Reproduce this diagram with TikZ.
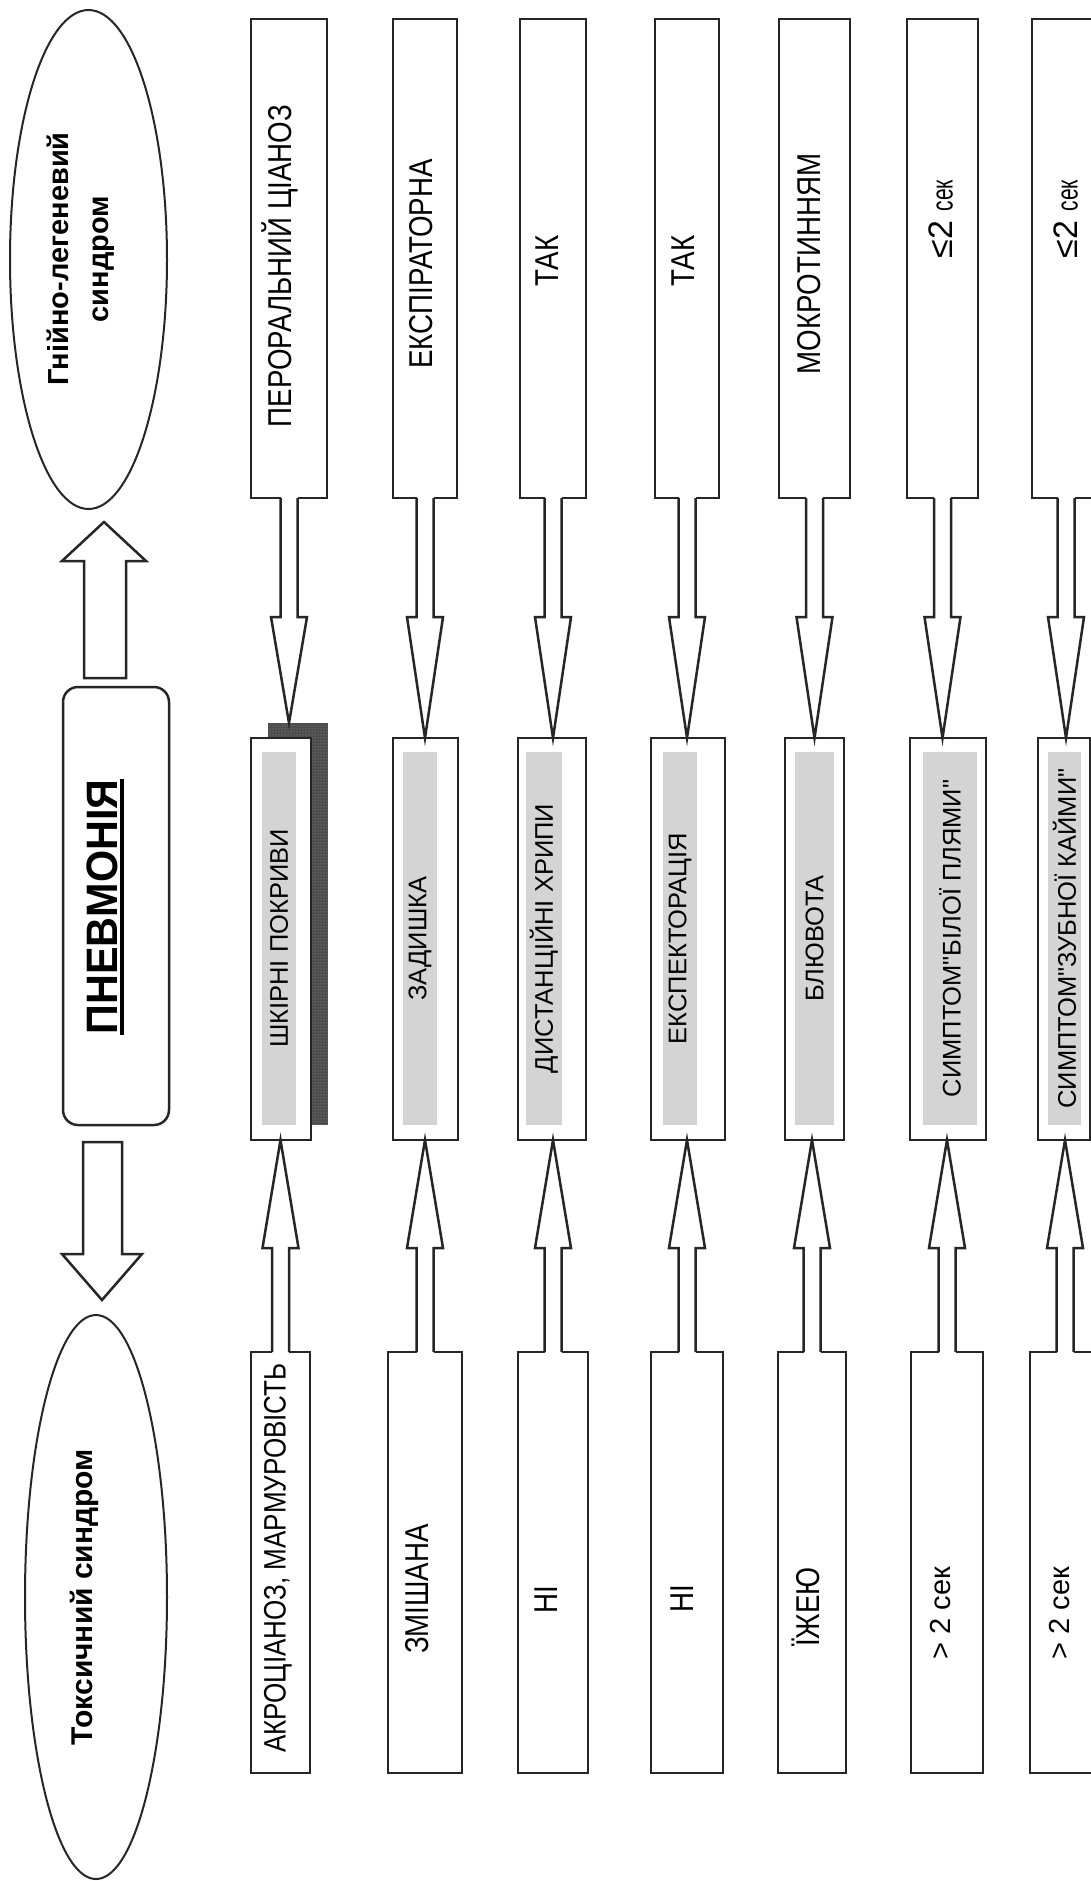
\documentclass[tikz,border=0pt]{standalone}
\usepackage{fontspec}
\setmainfont{Liberation Sans}[Ligatures=TeXOff]
\newfontfamily\cond[FakeStretch=0.84,Ligatures=TeXOff]{Liberation Sans}
\newfontfamily\narrowf[FakeStretch=0.7,Ligatures=TeXOff]{Liberation Sans}
\newfontfamily\pnfont[FakeStretch=0.94,Ligatures=TeXOff]{Liberation Sans}
\usetikzlibrary{shapes.geometric,calc,shadows,patterns}

\newcommand{\TopArrow}[2]{%
  \fill[white] let \p1=(#1.south) in (\x1-8.5pt,\y1+3pt) rectangle (\x1+8.5pt,\y1-119pt);
  \draw[conn] let \p1=(#1.south), \p2=(#2) in
    (\x1-8.5pt,\y1) -- (\x1-8.5pt,\y1-119pt) -- (\x1-18pt,\y1-119pt) -- (\x1,\y2)
    -- (\x1+18pt,\y1-119pt) -- (\x1+8.5pt,\y1-119pt) -- (\x1+8.5pt,\y1);
}
\newcommand{\BotArrow}[2]{%
  \fill[white] let \p1=(#1.north) in (\x1-8.5pt,\y1-3pt) rectangle (\x1+8.5pt,\y1+104pt);
  \draw[conn] let \p1=(#1.north), \p2=(#2) in
    (\x1-8.5pt,\y1) -- (\x1-8.5pt,\y1+104pt) -- (\x1-18pt,\y1+104pt) -- (\x1,\y2)
    -- (\x1+18pt,\y1+104pt) -- (\x1+8.5pt,\y1+104pt) -- (\x1+8.5pt,\y1);
}

\begin{document}
\begin{tikzpicture}[x=1pt,y=-1pt,
  frame/.style={draw=black!85,line width=2.5pt,fill=white,rectangle,inner sep=0pt,outer sep=0pt},
  topbox/.style={frame,minimum height=479pt},
  midbox/.style={frame,minimum height=402pt},
  botbox/.style={frame,minimum height=421pt},
  strip/.style={fill=black!17,rotate=90,minimum width=373pt,inner sep=0pt,font=\fontsize{25.5}{28}\selectfont},
  lab/.style={rotate=90,inner sep=0pt,font=\cond\fontsize{33}{36}\selectfont},
  conn/.style={draw=black!85,line width=2.5pt,line join=miter},
  oval/.style={ellipse,draw=black!85,line width=2pt,fill=white,inner sep=0pt,outer sep=0pt}
]
\useasboundingbox (0,0) rectangle (1091,1881);
\clip (0,0) rectangle (1091,1881);
\fill[white] (0,0) rectangle (1091,1881);

% syndromes
\node[oval,minimum width=157pt,minimum height=499pt] (e1) at (88.5,259.5) {};
\node[rotate=90,align=center,inner sep=0pt,font=\bfseries\fontsize{29}{40}\selectfont] (e1t) at (81,259) {Гнійно-легеневий\\синдром};
\node[oval,minimum width=142pt,minimum height=564pt] (e2) at (96,1597) {};
\node[rotate=90,inner sep=0pt,font=\bfseries\fontsize{30}{36}\selectfont] (e2t) at (84,1597) {Токсичний синдром};

% pneumonia
\node[frame,rounded corners=15pt,minimum width=106pt,minimum height=438pt] (pn) at (116,906) {};
\node[rotate=90,inner sep=0pt,font=\pnfont\bfseries\fontsize{44}{48}\selectfont] (pnt) at (102,907) {ПНЕВМОНІЯ};
\draw[line width=4pt] ($(pnt.base west)+(5,0)$) -- ($(pnt.base east)+(5,0)$);

\draw[conn,fill=white] let \p1=(pn.north), \p2=(e1.south) in
 (\x1-32pt,\y1+9pt) -- (\x1-32pt,\y2-52pt) -- (\x1-54pt,\y2-52pt) -- (\x1-12pt,\y2-13pt)
 -- (\x1+30pt,\y2-52pt) -- (\x1+10pt,\y2-52pt) -- (\x1+10pt,\y1+9pt) -- cycle;
\draw[conn,fill=white] let \p1=(pn.south), \p2=(e2.north) in
 (\x1-33pt,\y1-17pt) -- (\x1-33pt,\y2+61pt) -- (\x1-54pt,\y2+61pt) -- (\x1-14pt,\y2+15pt)
 -- (\x1+26pt,\y2+61pt) -- (\x1+6pt,\y2+61pt) -- (\x1+6pt,\y1-17pt) -- cycle;

% top boxes
\node[topbox,minimum width=76pt] (t1) at (289,258.5) {};
\node[topbox,minimum width=64pt] (t2) at (425,258.5) {};
\node[topbox,minimum width=66pt] (t3) at (553,258.5) {};
\node[topbox,minimum width=64pt] (t4) at (687,258.5) {};
\node[topbox,minimum width=71pt] (t5) at (814.5,258.5) {};
\node[topbox,minimum width=71pt] (t6) at (942.5,258.5) {};
\node[topbox,minimum width=68pt] (t7) at (1066,258.5) {};

\node[lab] (tt1) at (280,266) {ПЕРОРАЛЬНИЙ ЦІАНОЗ};
\node[lab] (tt2) at (421,264) {ЕКСПІРАТОРНА};
\node[lab] (tt3) at (547,261) {ТАК};
\node[lab] (tt4) at (683,261) {ТАК};
\node[lab] (tt5) at (809,264) {МОКРОТИННЯМ};
\node[lab,font=\fontsize{34}{36}\selectfont] (tt6) at (941,219) {≤2 {\narrowf\fontsize{30}{36}\selectfont сек}};
\node[lab,font=\fontsize{34}{36}\selectfont] (tt7) at (1066,219) {≤2 {\narrowf\fontsize{30}{36}\selectfont сек}};

% middle boxes
\node[midbox,minimum width=60pt,
  drop shadow={shadow xshift=17pt,shadow yshift=15pt,fill=black!70,opacity=1},
  general shadow={shadow xshift=17pt,shadow yshift=15pt,pattern=dots,pattern color=black!35}] (m1) at (281,939) {};
\node[midbox,minimum width=65pt] (m2) at (425.5,939) {};
\node[midbox,minimum width=68pt] (m3) at (552,939) {};
\node[midbox,minimum width=74pt] (m4) at (688,939) {};
\node[midbox,minimum width=59pt] (m5) at (814.5,939) {};
\node[midbox,minimum width=76pt] (m6) at (948,939) {};
\node[midbox,minimum width=52pt] (m7) at (1064,939) {};

\node[strip,minimum height=34pt] (s1) at (279,938.5) {ШКІРНІ ПОКРИВИ};
\node[strip,minimum height=34pt] (s2) at (420,938.5) {ЗАДИШКА};
\node[strip,minimum height=36pt] (s3) at (544,938.5) {ДИСТАНЦІЙНІ ХРИПИ};
\node[strip,minimum height=34pt] (s4) at (680,938.5) {ЕКСПЕКТОРАЦІЯ};
\node[strip,minimum height=39pt] (s5) at (814.5,938.5) {БЛЮВОТА};
\node[strip,minimum height=54pt] (s6) at (950,938.5) {СИМПТОМ"БІЛОЇ ПЛЯМИ"};
\node[strip,minimum height=33pt] (s7) at (1064.5,938.5) {СИМПТОМ"ЗУБНОЇ КАЙМИ"};

% bottom boxes
\node[botbox,minimum width=59pt] (b1) at (280.5,1562.5) {};
\node[botbox,minimum width=74pt] (b2) at (425,1562.5) {};
\node[botbox,minimum width=70pt] (b3) at (553,1562.5) {};
\node[botbox,minimum width=72pt] (b4) at (687,1562.5) {};
\node[botbox,minimum width=68pt] (b5) at (812,1562.5) {};
\node[botbox,minimum width=72pt] (b6) at (947,1562.5) {};
\node[botbox,minimum width=70pt] (b7) at (1065,1562.5) {};

\node[lab,font=\cond\fontsize{31}{36}\selectfont] (bt1) at (278,1558) {АКРОЦІАНОЗ, МАРМУРОВІСТЬ};
\node[lab] (bt2) at (417,1589) {ЗМІШАНА};
\node[lab] (bt3) at (546,1600) {НІ};
\node[lab] (bt4) at (682,1599) {НІ};
\node[lab] (bt5) at (806,1607) {ЇЖЕЮ};
\node[lab,font=\fontsize{29}{34}\selectfont] (bt6) at (941,1613) {> 2 сек};
\node[lab,font=\fontsize{29}{34}\selectfont] (bt7) at (1060,1613) {> 2 сек};

% connectors
\coordinate (sh1) at ($(m1.north)+(0,-15)$);
\TopArrow{t1}{sh1}
\TopArrow{t2}{m2.north}
\TopArrow{t3}{m3.north}
\TopArrow{t4}{m4.north}
\TopArrow{t5}{m5.north}
\TopArrow{t6}{m6.north}
\TopArrow{t7}{m7.north}
\BotArrow{b1}{m1.south}
\BotArrow{b2}{m2.south}
\BotArrow{b3}{m3.south}
\BotArrow{b4}{m4.south}
\BotArrow{b5}{m5.south}
\BotArrow{b6}{m6.south}
\BotArrow{b7}{m7.south}
\end{tikzpicture}
\end{document}
